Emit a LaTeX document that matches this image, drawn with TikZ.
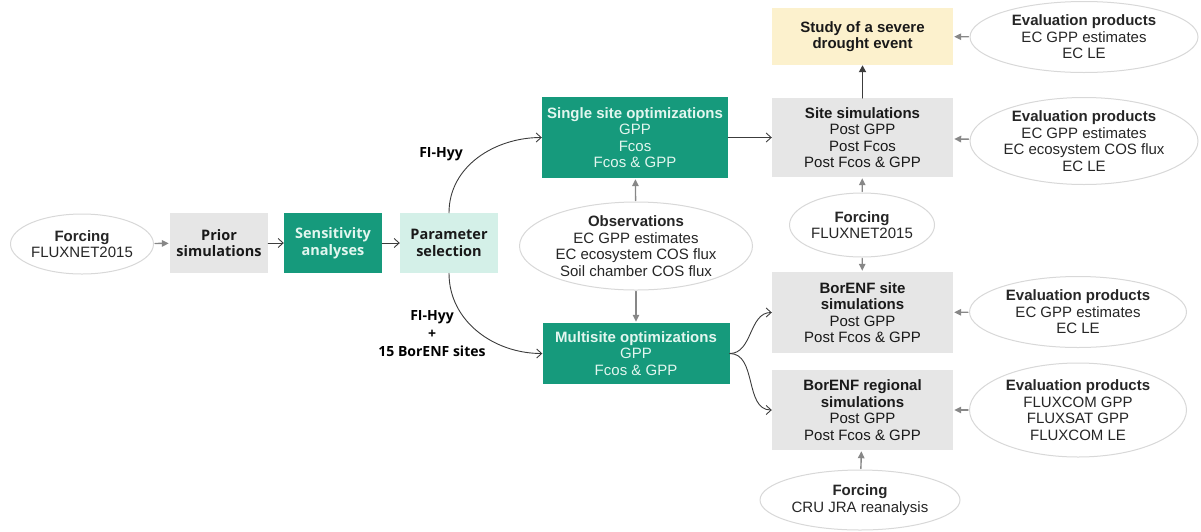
\documentclass[tikz,border=0pt]{standalone}
\usepackage{fontspec}
\setmainfont{Liberation Sans}
\newfontfamily\opensans{Open Sans}
\usepackage{xcolor}
\usepackage{tikz}
\usetikzlibrary{arrows.meta,shapes.geometric}
\definecolor{optteal}{RGB}{22,154,124}
\definecolor{optmint}{RGB}{212,240,232}
\definecolor{opttext}{RGB}{226,246,239}
\definecolor{simgray}{RGB}{230,230,230}
\definecolor{studysand}{RGB}{252,241,205}
\definecolor{rimgray}{RGB}{216,216,216}
\definecolor{feedgray}{RGB}{135,135,135}
\definecolor{flowdark}{RGB}{60,60,60}
\newcommand{\osb}{\opensans\bfseries\fontsize{14.5}{18}\selectfont}
\tikzset{
  txt/.style={font=\fontsize{15}{16.5}\selectfont, align=center,
    inner sep=0pt},
  ellip/.style={txt, ellipse, draw=rimgray, line width=1pt, fill=white,
    text=black!85, inner xsep=-30pt, inner ysep=-14pt},
  simbox/.style={txt, rectangle, fill=simgray, text=black!90},
  optbox/.style={txt, rectangle, fill=optteal, text=opttext},
  mintbox/.style={txt, rectangle, fill=optmint, text=black!90},
  studybox/.style={txt, rectangle, fill=studysand, text=black!90},
  feed/.style={feedgray, line width=1.4pt,
    -{Triangle[length=7pt,width=6.5pt]}, shorten >=1pt, shorten <=1pt},
  flow/.style={flowdark, line width=0.9pt,
    -{Straight Barb[length=5pt,width=9pt]}},
  bent/.style={txt, font=\opensans\bfseries\fontsize{14}{18}\selectfont}
}
\begin{document}
\begin{tikzpicture}[x=1pt, y=-1pt, line cap=round, line join=round]
  \useasboundingbox (0,0) rectangle (1201,531);

  % Left chain: forcing, prior runs, sensitivity, parameter choice.
  \node[ellip, minimum width=143, minimum height=60] (forcsite) at (82,244)
    {\textbf{Forcing}\\FLUXNET2015};
  \node[simbox, minimum width=98, minimum height=60] (prior) at (219,243)
    {\osb Prior\\\osb simulations};
  \node[optbox, minimum width=98, minimum height=60] (sens) at (333,243)
    {\osb Sensitivity\\\osb analyses};
  \node[mintbox, minimum width=98, minimum height=60] (param) at (449,243)
    {\osb Parameter\\\osb selection};

  % Optimizations and the observations that constrain them.
  \node[optbox, minimum width=186, minimum height=81] (single) at (635,137.5)
    {\textbf{Single site optimizations}\\GPP\\Fcos\\Fcos \& GPP};
  \node[ellip, minimum width=233, minimum height=88] (obs) at (636,246)
    {\textbf{Observations}\\EC GPP estimates\\EC ecosystem COS flux\\
     Soil chamber COS flux};
  \node[optbox, minimum width=187, minimum height=61] (multi) at (636,353.5)
    {\textbf{Multisite optimizations}\\GPP\\Fcos \& GPP};

  % Posterior simulations.
  \node[studybox, minimum width=181, minimum height=57] (drought)
    at (862.5,36.5) {\textbf{Study of a severe}\\\textbf{drought event}};
  \node[simbox, minimum width=181, minimum height=79] (sitesim)
    at (862.5,137.5)
    {\textbf{Site simulations}\\Post GPP\\Post Fcos\\Post Fcos \& GPP};
  \node[ellip, minimum width=145, minimum height=64] (forcmid) at (862,225)
    {\textbf{Forcing}\\FLUXNET2015};
  \node[simbox, minimum width=181, minimum height=81] (borsite)
    at (862.5,312.5)
    {\textbf{BorENF site}\\\textbf{simulations}\\Post GPP\\Post Fcos \& GPP};
  \node[simbox, minimum width=181, minimum height=80] (borreg)
    at (862.5,410)
    {\textbf{BorENF regional}\\\textbf{simulations}\\Post GPP\\
     Post Fcos \& GPP};
  \node[ellip, minimum width=200, minimum height=60] (forccru) at (860,500)
    {\textbf{Forcing}\\CRU JRA reanalysis};

  % Evaluation products on the right.
  \node[ellip, minimum width=228, minimum height=71] (evaldrought)
    at (1084,37) {\textbf{Evaluation products}\\EC GPP estimates\\EC LE};
  \node[ellip, minimum width=228, minimum height=87] (evalsite)
    at (1084,141) {\textbf{Evaluation products}\\EC GPP estimates\\
     EC ecosystem COS flux\\EC LE};
  \node[ellip, minimum width=217, minimum height=71] (evalborsite)
    at (1078,312) {\textbf{Evaluation products}\\EC GPP estimates\\EC LE};
  \node[ellip, minimum width=217, minimum height=94] (evalborreg)
    at (1078,410) {\textbf{Evaluation products}\\FLUXCOM GPP\\
     FLUXSAT GPP\\FLUXCOM LE};

  % Labels on the two branches out of the parameter selection.
  \node[bent] (lblsingle) at (441,154) {FI-Hyy};
  \node[bent] (lblmulti) at (432,334) {FI-Hyy\\+\\15 BorENF sites};

  % Main flow.
  \draw[flow] (prior) -- (sens);
  \draw[flow] (sens) -- (param);
  \draw[flow] (param.north) to[out=90, in=180] (single.west);
  \draw[flow] (param.south) to[out=-90, in=180] (multi.west);
  \draw[flow] (single) -- (sitesim);
  \draw[flow] (multi.east) to[out=0, in=180] (borsite.west);
  \draw[flow] (multi.east) to[out=0, in=180] (borreg.west);
  \draw[flowdark, line width=1.8pt,
    -{Triangle[length=7pt,width=7pt]}] (sitesim) -- (drought);

  % Inputs from the ellipses.
  \draw[feed] (forcsite) -- (prior);
  \draw[feed] (obs) -- (single);
  \draw[feed] (obs) -- (multi);
  \draw[feed] (forcmid) -- (sitesim);
  \draw[feed] (forcmid) -- (borsite);
  \draw[feed] (forccru) -- (borreg);
  \draw[feed] (evaldrought) -- (drought);
  \draw[feed] (evalsite) -- (sitesim);
  \draw[feed] (evalborsite) -- (borsite);
  \draw[feed] (evalborreg) -- (borreg);
\end{tikzpicture}
\end{document}
